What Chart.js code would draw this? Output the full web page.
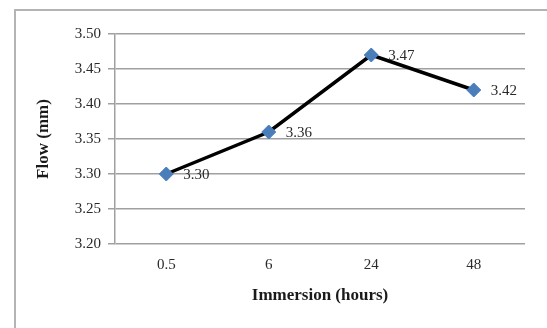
<!DOCTYPE html>
<html>
<head>
<meta charset="utf-8">
<script src="https://cdn.jsdelivr.net/npm/chart.js@4/dist/chart.umd.min.js"></script>
<style>
  html, body { margin: 0; padding: 0; background: #fff; }
  #wrap { position: relative; width: 547px; height: 328px; overflow: hidden; }
  #frame {
    position: absolute; left: 14px; top: 9px; right: -10px; bottom: -10px;
    border-left: 2px solid #b4b4b4; border-top: 2px solid #b4b4b4;
    pointer-events: none;
  }
  canvas { position: absolute; left: 0; top: 0; }
</style>
</head>
<body>
<div id="wrap">
  <canvas id="flowChart" width="547" height="328"></canvas>
  <div id="frame"></div>
</div>
<script>
// data
var immersion = ['0.5', '6', '24', '48'];
var flow = [3.30, 3.36, 3.47, 3.42];
var flowLabels = ['3.30', '3.36', '3.47', '3.42'];
var yMin = 3.20;
var yMax = 3.50;
var yStep = 0.05;

//---------------value labels next to the points------------------
const pointLabels = {
  id: 'pointLabels',
  afterDatasetsDraw(chart) {
    const ctx = chart.ctx;
    const meta = chart.getDatasetMeta(0);
    ctx.save();
    ctx.font = '15px "Liberation Serif", "Times New Roman", serif';
    ctx.fillStyle = '#2a2a2a';
    ctx.textAlign = 'left';
    ctx.textBaseline = 'middle';
    meta.data.forEach(function(pt, i) {
      ctx.fillText(flowLabels[i], pt.x + 17, pt.y + 1);
    });
    ctx.restore();
  }
};

const flowchart = new Chart(document.getElementById('flowChart'), {
  type: 'line',
  data: {
    labels: immersion,
    datasets: [{
      label: 'Flow',
      data: flow,
      borderColor: '#000',
      borderWidth: 3.5,
      pointStyle: 'rectRot',
      pointRadius: 7,
      pointBackgroundColor: '#4a7ebb',
      pointBorderColor: '#4a7ebb',
      pointBorderWidth: 1,
      tension: 0,
      fill: false
    }]
  },
  options: {
    responsive: false,
    animation: false,
    layout: {
      padding: { left: 29, right: 22, top: 34, bottom: 18 }
    },
    plugins: {
      legend: { display: false },
      tooltip: { enabled: false }
    },
    scales: {
      x: {
        offset: true,
        grid: { display: false, drawTicks: false },
        border: { display: false },
        ticks: {
          color: '#2a2a2a',
          padding: 12,
          font: { family: '"Liberation Serif", serif', size: 15 }
        },
        title: {
          display: true,
          text: 'Immersion (hours)',
          color: '#1a1a1a',
          font: { family: '"Liberation Serif", serif', size: 17, weight: 'bold' }
        },
        afterFit: function(scale) { scale.height = 66; }
      },
      y: {
        min: yMin,
        max: yMax,
        grid: {
          color: '#a0a0a0',
          lineWidth: 1.5,
          tickLength: 7,
          tickColor: '#a0a0a0'
        },
        border: { display: true, color: '#a0a0a0', width: 1.5 },
        ticks: {
          stepSize: yStep,
          color: '#2a2a2a',
          padding: 7,
          font: { family: '"Liberation Serif", serif', size: 15 },
          callback: function(v) { return v.toFixed(2); }
        },
        title: {
          display: true,
          text: 'Flow (mm)',
          color: '#1a1a1a',
          font: { family: '"Liberation Serif", serif', size: 17, weight: 'bold' }
        },
        afterFit: function(scale) { scale.width = 86; }
      }
    }
  },
  plugins: [pointLabels]
});
</script>
</body>
</html>
